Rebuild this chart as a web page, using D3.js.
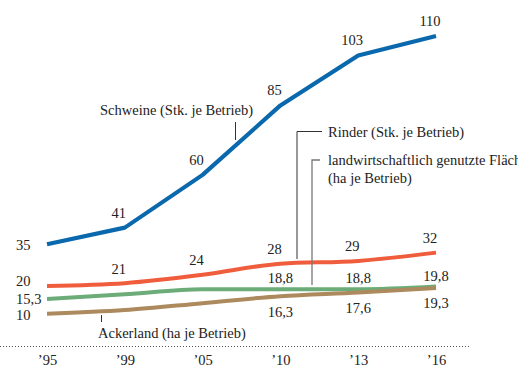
<!DOCTYPE html>
<html>
<head>
<meta charset="utf-8">
<script src="https://cdn.jsdelivr.net/npm/d3@7"></script>
<style>
  html, body { margin: 0; padding: 0; background: #fff; }
  svg { display: block; }
  text { font-family: "Liberation Serif", "DejaVu Serif", serif; fill: #222; }
</style>
</head>
<body>
<svg id="chart" width="518" height="367"></svg>
<script>
// ---- data ----
const years = ["1995", "1999", "2005", "2010", "2013", "2016"];
const yearLabels = ["\u201995", "\u201999", "\u201905", "\u201910", "\u201913", "\u201916"];
const schweine = [35, 41, 60, 85, 103, 110];
const rinder = [20, 21, 24, 28, 29, 32];
const flaeche = [15.3, 17.0, 18.8, 18.8, 18.8, 19.8];
const ackerland = [10, 11.3, 13.8, 16.3, 17.6, 19.3];
// which points carry a value label
const schweineLabeled = [true, true, true, true, true, true];
const rinderLabeled = [true, true, true, true, true, true];
const flaecheLabeled = [true, false, false, true, true, true];
const ackerlandLabeled = [true, false, false, true, true, true];

const fmt = v => String(v).replace(".", ",");

// ---- layout ----
const svg = d3.select("#chart");
const x = d3.scalePoint().domain(years).range([47, 436]);
const y = d3.scaleLinear().domain([0, 110]).range([341.5, 36]);

const series = [
  { values: schweine, labeled: schweineLabeled, color: "#0a68ad", width: 4.2, curve: d3.curveLinear,
    first: { dx: -31, dy: 5.5 }, other: { dx: -6, dy: -10 } },
  { values: rinder, labeled: rinderLabeled, color: "#ef5d3d", width: 4, curve: d3.curveMonotoneX,
    first: { dx: -31, dy: 0.5 }, other: { dx: -6, dy: -9.5 } },
  { values: flaeche, labeled: flaecheLabeled, color: "#6cac78", width: 4, curve: d3.curveMonotoneX,
    first: { dx: -31, dy: 5 }, other: { dx: 0, dy: -6 } },
  { values: ackerland, labeled: ackerlandLabeled, color: "#ad8a5e", width: 4, curve: d3.curveMonotoneX,
    first: { dx: -31, dy: 6 }, other: { dx: 0, dy: 20.5 } }
];

const fs = 14.5;

// ---- axis (dotted baseline + tick labels) ----
const axis = d3.axisBottom(x).tickSize(0).tickPadding(0)
  .tickFormat((d, i) => yearLabels[i]);
const gAxis = svg.append("g").attr("transform", "translate(0,346)").call(axis);
gAxis.select(".domain").remove();
gAxis.selectAll("text")
  .attr("dy", null).attr("y", 18.5)
  .style("font-family", "'Liberation Serif', serif")
  .style("font-size", fs + "px").attr("fill", "#222");
svg.append("line")
  .attr("x1", 0).attr("x2", 471).attr("y1", 346.5).attr("y2", 346.5)
  .attr("stroke", "#555").attr("stroke-width", 1).attr("stroke-dasharray", "1,2");

// ---- lines ----
series.forEach(s => {
  const line = d3.line().x((d, i) => x(years[i])).y(d => y(d)).curve(s.curve);
  svg.append("path").datum(s.values)
    .attr("d", line).attr("fill", "none")
    .attr("stroke", s.color).attr("stroke-width", s.width)
    .attr("stroke-linejoin", "round");
});

// ---- value labels ----
series.forEach(s => {
  s.values.forEach((v, i) => {
    if (!s.labeled[i]) return;
    const o = i === 0 ? s.first : s.other;
    svg.append("text")
      .attr("x", x(years[i]) + o.dx)
      .attr("y", y(v) + o.dy)
      .attr("text-anchor", i === 0 ? "start" : "middle")
      .style("font-size", fs + "px")
      .text(fmt(v));
  });
});

// ---- annotations ----
function leader(points, color, w) {
  svg.append("path").attr("d", d3.line()(points))
    .attr("fill", "none").attr("stroke", color).attr("stroke-width", w);
}
// Schweine
svg.append("text").attr("x", 100).attr("y", 115).style("font-size", fs + "px")
  .text("Schweine (Stk. je Betrieb)");
leader([[235.5, 122], [235.5, 140]], "#333", 1);

// Rinder
svg.append("text").attr("x", 328).attr("y", 136.5).style("font-size", fs + "px")
  .text("Rinder (Stk. je Betrieb)");
leader([[322, 131.5], [297, 131.5], [297, 259]], "#333", 1);

// Fläche (runs off the right edge, as in the original)
svg.append("text").attr("x", 328).attr("y", 165).style("font-size", fs + "px")
  .text("landwirtschaftlich genutzte Fläche");
svg.append("text").attr("x", 328).attr("y", 183).style("font-size", fs + "px")
  .text("(ha je Betrieb)");
leader([[320, 160], [312, 160], [312, 285]], "#777", 1.3);

// Ackerland
svg.append("text").attr("x", 98).attr("y", 338).style("font-size", fs + "px")
  .text("Ackerland (ha je Betrieb)");
leader([[101.5, 315], [101.5, 322]], "#333", 1);
</script>
</body>
</html>
